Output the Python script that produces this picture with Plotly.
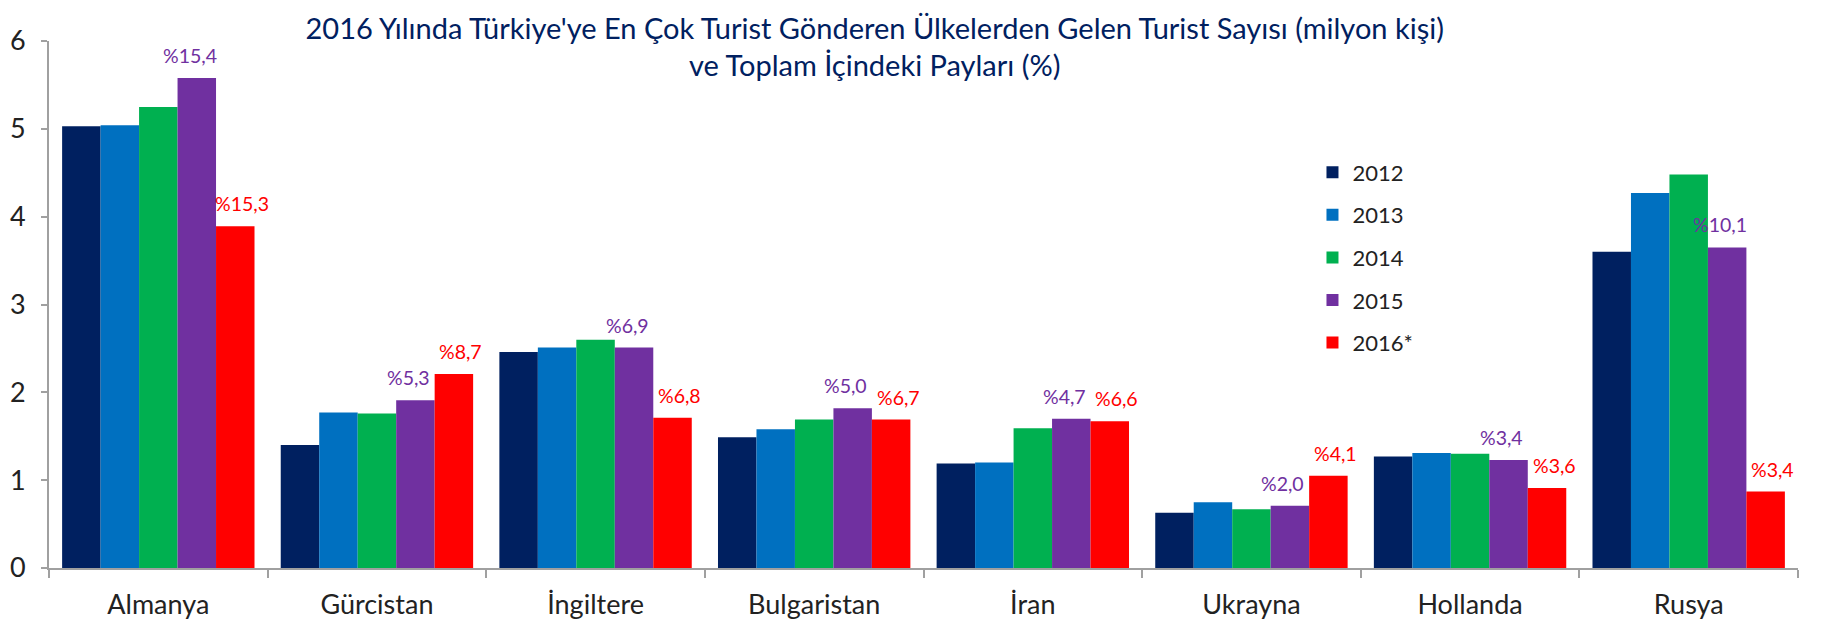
import plotly.graph_objects as go

countries = ["Almanya", "Gürcistan", "İngiltere", "Bulgaristan", "İran", "Ukrayna", "Hollanda", "Rusya"]
years = ["2012", "2013", "2014", "2015", "2016*"]
v2012 = [5.03, 1.40, 2.46, 1.49, 1.19, 0.63, 1.27, 3.60]
v2013 = [5.04, 1.77, 2.51, 1.58, 1.20, 0.75, 1.31, 4.27]
v2014 = [5.25, 1.76, 2.60, 1.69, 1.59, 0.67, 1.30, 4.48]
v2015 = [5.58, 1.91, 2.51, 1.82, 1.70, 0.71, 1.23, 3.65]
v2016 = [3.89, 2.21, 1.71, 1.69, 1.67, 1.05, 0.91, 0.87]
share2015 = ["%15,4", "%5,3", "%6,9", "%5,0", "%4,7", "%2,0", "%3,4", "%10,1"]
share2016 = ["%15,3", "%8,7", "%6,8", "%6,7", "%6,6", "%4,1", "%3,6", "%3,4"]
colors = ["#002060", "#0070C0", "#00B050", "#7030A0", "#FF0000"]

series = [v2012, v2013, v2014, v2015, v2016]
labels = {3: share2015, 4: share2016}
label_spread = {3: -7, 4: 7}   # keep neighbouring labels apart (px)

FONT = "Lato"
# page body adds an 8px offset, so the figure is 8px smaller than the window
W, H = 1817, 614
L, R, T, B = 41, 27, 33, 54
BARGAP = 0.12
n_cat = len(countries)
n_ser = len(series)

fig = go.Figure()
for i, (yr, vals) in enumerate(zip(years, series)):
    fig.add_trace(go.Bar(
        x=countries, y=vals, name=yr,
        marker=dict(color=colors[i], line=dict(width=0)),
        legendgroup=yr, cliponaxis=False))

# data labels above the 2015 and 2016 bars (placed at each bar's value)
cat_px = (W - L - R) / n_cat
bar_px = cat_px * (1 - BARGAP) / n_ser
for i, texts in labels.items():
    off = (i - (n_ser - 1) / 2) * bar_px + label_spread[i]
    for c, t, v in zip(countries, texts, series[i]):
        fig.add_annotation(x=c, y=v, text=t, showarrow=False, xshift=off,
                           yanchor="bottom", yshift=9,
                           font=dict(family=FONT, size=19.5, color=colors[i]))

fig.update_layout(
    width=W, height=H,
    paper_bgcolor="white", plot_bgcolor="white",
    margin=dict(l=L, r=R, t=T, b=B),
    barmode="group", bargap=BARGAP, bargroupgap=0,
    font=dict(family=FONT, size=22, color="#222222"),
    title=dict(text="2016 Yılında Türkiye'ye En Çok Turist Gönderen Ülkelerden Gelen Turist Sayısı (milyon kişi)<br>ve Toplam İçindeki Payları (%)",
               x=0.477, xanchor="center", y=0.95, yanchor="middle",
               font=dict(family=FONT, size=29, color="#002060")),
    legend=dict(x=0.7224, y=0.7905, xanchor="left", yanchor="top",
                font=dict(size=22, color="#222222"), tracegroupgap=11,
                bgcolor="rgba(0,0,0,0)"),
)
fig.update_xaxes(showline=True, linecolor="#A0A0A0", linewidth=2,
                 ticks="outside", tickson="boundaries", ticklen=8, tickcolor="#A0A0A0",
                 tickwidth=2, showgrid=False, tickfont=dict(size=27, color="#222222"),
                 ticklabelstandoff=12, automargin=False)
fig.update_yaxes(range=[0, 6], dtick=1, showline=True, linecolor="#A0A0A0", linewidth=2,
                 ticks="outside", ticklen=6, tickcolor="#A0A0A0", tickwidth=2, showgrid=False,
                 zeroline=False, tickfont=dict(size=27, color="#222222"),
                 ticklabelstandoff=10, automargin=False)
fig.write_html("out.html")
